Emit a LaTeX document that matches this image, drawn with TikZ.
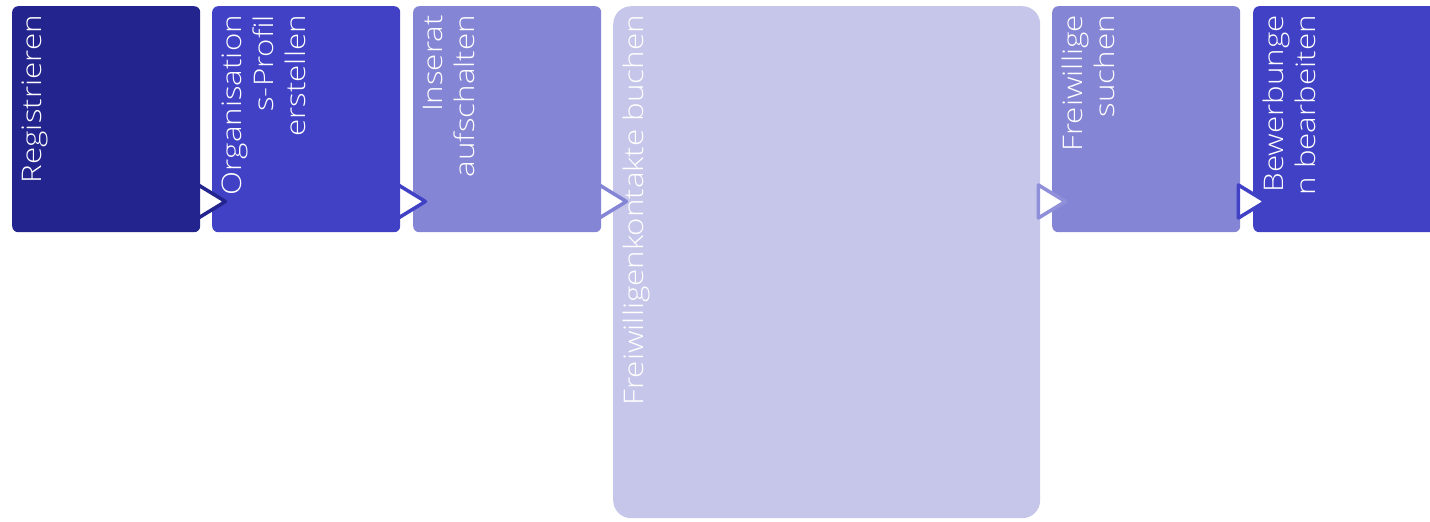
\documentclass[tikz,border=0pt]{standalone}
\usepackage{fontspec}
\newfontfamily\lightfont{Open Sans Light}[FakeStretch=1.16]
\definecolor{cnavy}{HTML}{24248F}
\definecolor{cblue}{HTML}{4141C6}
\definecolor{cmid}{HTML}{8585D6}
\definecolor{clight}{HTML}{C6C6EA}
\definecolor{carr}{HTML}{9090DA}
\begin{document}
\begin{tikzpicture}[x=1pt,y=1pt,
  box/.style={rectangle, rounded corners=6pt, minimum width=188pt, minimum height=226pt, anchor=north west, inner sep=0pt, draw=none},
  lbl/.style={rotate=90, anchor=north east, align=right, text=white, inner sep=0pt, font=\lightfont\fontsize{27}{32}\selectfont},
  tri/.style={fill=white, line width=3.5pt, line join=round}]
\useasboundingbox (0,0) rectangle (1430,522);
\clip (0,0) rectangle (1430,522);
\node[box, fill=cnavy] (b1) at (12,516) {};
\node[box, fill=cblue] (b2) at (212,516) {};
\node[box, fill=cmid] (b3) at (413,516) {};
\node[box, fill=clight, minimum width=427pt, minimum height=512pt, rounded corners=18pt] (b4) at (613,516) {};
\node[box, fill=cmid] (b5) at (1052,516) {};
\node[box, fill=cblue] (b6) at (1253,516) {};
\node[lbl] (t1) at (22,507) {Registrieren};
\node[lbl] (t2) at (222,507) {Organisation\\s-Profil\\erstellen};
\node[lbl] (t3) at (423,507) {Inserat\\aufschalten};
\node[lbl] (t4) at (623,507) {Freiwilligenkontakte buchen};
\node[lbl] (t5) at (1062,507) {Freiwillige\\suchen};
\node[lbl] (t6) at (1263,507) {Bewerbunge\\n bearbeiten};
\foreach \b/\c in {b1/cnavy,b2/cblue,b3/cmid,b4/carr,b5/cblue}{
  \coordinate (a\b) at (\b.east |- 0,321);
  \draw[tri, draw=\c] (a\b) ++(-2,16) -- ++(0,-33) -- ++(27,16.5) -- cycle;
}
\end{tikzpicture}
\end{document}
